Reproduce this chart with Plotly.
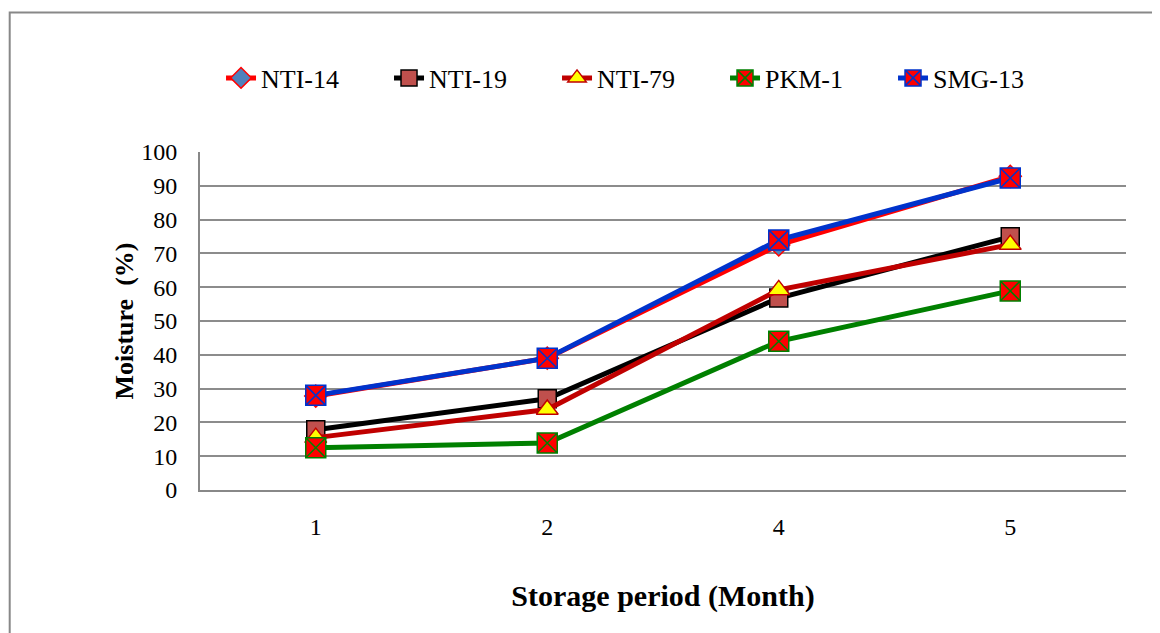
import plotly.graph_objects as go

months = ["1", "2", "4", "5"]
series_names = ["NTI-14", "NTI-19", "NTI-79", "PKM-1", "SMG-13"]
nti14 = [27.8, 39.0, 72.5, 92.8]
nti19 = [17.8, 27.0, 56.8, 74.9]
nti79 = [15.5, 23.8, 59.2, 72.6]
pkm1 = [12.5, 13.9, 44.0, 58.9]
smg13 = [28.0, 39.0, 74.0, 92.3]
y_ticks = list(range(0, 101, 10))

values = [nti14, nti19, nti79, pkm1, smg13]
line_colors = ["#FF0000", "#000000", "#C00000", "#008000", "#0033CC"]
marker_symbols = ["diamond", "square", "triangle-up", "square-x", "square-x"]
marker_fills = ["#4F81BD", "#C0504D", "#FFFF00", "#FF0000", "#FF0000"]
marker_lines = ["#FF0000", "#000000", "#C00000", "#008000", "#0033CC"]
marker_sizes = [17, 18, 19, 20, 20]

FONT = "Liberation Serif, Times New Roman, serif"

fig = go.Figure()
for name, vals, lc, ms, mf, ml, sz in zip(series_names, values, line_colors,
                                          marker_symbols, marker_fills, marker_lines, marker_sizes):
    fig.add_trace(go.Scatter(
        x=months, y=vals, name=name, mode="lines+markers",
        line=dict(color=lc, width=5),
        marker=dict(symbol=ms, color=mf, size=sz, line=dict(color=ml, width=1.5)),
    ))

# outer border
fig.add_shape(type="rect", xref="paper", yref="paper",
              x0=-0.2055, x1=1.1, y0=-0.6, y1=1.4127,
              line=dict(color="#888888", width=2), fillcolor="rgba(0,0,0,0)")

fig.update_layout(
    width=1160, height=633,
    margin=dict(l=192, r=42, t=144, b=151),
    paper_bgcolor="white", plot_bgcolor="white",
    font=dict(family=FONT, color="black", size=22),
    showlegend=True,
    legend=dict(orientation="h", x=0.0227, xanchor="left", y=1.219, yanchor="middle",
                font=dict(family=FONT, size=26), entrywidth=123, entrywidthmode="pixels",
                bgcolor="rgba(0,0,0,0)"),
    xaxis=dict(
        type="category", categoryorder="array", categoryarray=months, range=[-0.5, 3.5],
        showgrid=False, showline=True, linecolor="#888888", linewidth=2,
        ticks="outside", ticklen=14, tickcolor="rgba(0,0,0,0)",
        tickfont=dict(family=FONT, size=24),
        title=dict(text="<b>Storage period (Month)</b>", font=dict(family=FONT, size=30), standoff=46),
    ),
    yaxis=dict(
        range=[0, 100], tickvals=y_ticks, showgrid=True, gridcolor="#8C8C8C", gridwidth=2,
        showline=True, linecolor="#888888", linewidth=2, zeroline=False,
        ticks="outside", ticklen=16, tickcolor="rgba(0,0,0,0)",
        tickfont=dict(family=FONT, size=24),
        title=dict(text="<b>Moisture  (%)</b>", font=dict(family=FONT, size=26), standoff=0),
    ),
)

fig.write_html("out.html")
